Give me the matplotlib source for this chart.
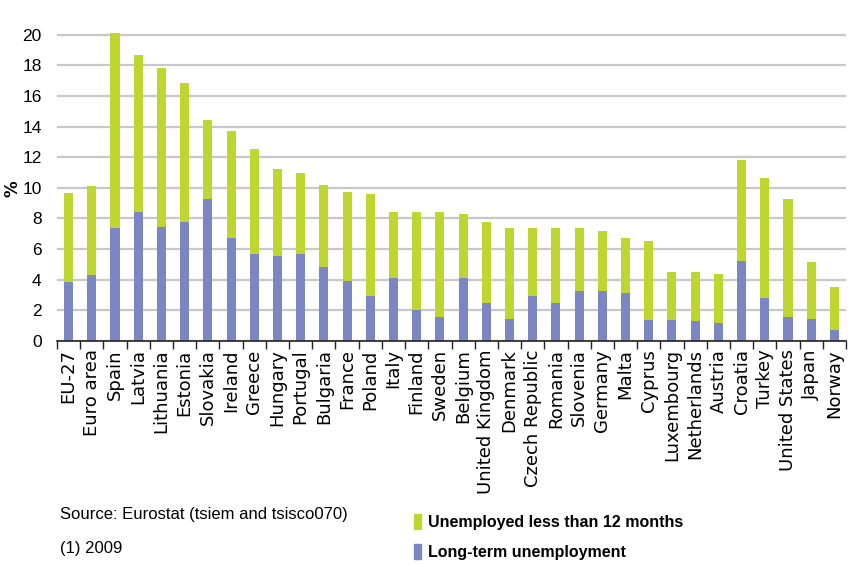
import matplotlib.pyplot as plt
import matplotlib.patches as mpatches
import numpy as np

countries = ['EU-27', 'Euro area', 'Spain', 'Latvia', 'Lithuania', 'Estonia', 'Slovakia',
             'Ireland', 'Greece', 'Hungary', 'Portugal', 'Bulgaria', 'France', 'Poland',
             'Italy', 'Finland', 'Sweden', 'Belgium', 'United Kingdom', 'Denmark',
             'Czech Republic', 'Romania', 'Slovenia', 'Germany', 'Malta', 'Cyprus',
             'Luxembourg', 'Netherlands', 'Austria', 'Croatia', 'Turkey', 'United States',
             'Japan', 'Norway']

long_term = [3.85, 4.3, 7.35, 8.4, 7.45, 7.75, 9.25, 6.7, 5.7, 5.55, 5.7, 4.8, 3.9, 2.95,
             4.1, 2.0, 1.55, 4.1, 2.5, 1.45, 2.95, 2.5, 3.25, 3.25, 3.15, 1.35, 1.35, 1.3,
             1.15, 5.25, 2.8, 1.55, 1.45, 0.7]

less_12m = [5.8, 5.8, 12.75, 10.3, 10.35, 9.1, 5.15, 7.0, 6.85, 5.65, 5.25, 5.4, 5.8, 6.65,
            4.3, 6.4, 6.85, 4.2, 5.3, 5.95, 4.4, 4.85, 4.1, 3.9, 3.6, 5.15, 3.15, 3.2,
            3.25, 6.55, 7.85, 7.75, 3.7, 2.85]

GREEN = '#bdd630'
BLUE = '#7b86c2'
NARROW = ['Liberation Sans Narrow', 'Liberation Sans', 'DejaVu Sans']

fig = plt.figure(figsize=(8.53, 5.64), dpi=100)
ax = fig.add_axes([57 / 853, 1 - 341 / 564, (846 - 57) / 853, (341 - 27) / 564])

x = np.arange(len(countries))
ax.bar(x, long_term, width=0.39, color=BLUE, zorder=3)
ax.bar(x, less_12m, width=0.39, bottom=long_term, color=GREEN, zorder=3)

ax.set_xlim(-0.5, len(countries) - 0.5)
ax.set_ylim(0, 20.5)
ax.set_yticks(np.arange(0, 21, 2))
ax.yaxis.grid(True, color='#c8c8c8', linewidth=1.6, zorder=0)
ax.set_axisbelow(True)

for s in ['top', 'right', 'left']:
    ax.spines[s].set_visible(False)
ax.spines['bottom'].set_color('#222222')
ax.spines['bottom'].set_linewidth(1.2)
ax.spines['bottom'].set_zorder(4)

ax.tick_params(axis='y', length=0, pad=11)
for lab in ax.get_yticklabels():
    lab.set_family(NARROW)
    lab.set_fontsize(12.5)

# category labels, ticks sit between the bars
ax.set_xticks(x)
ax.set_xticklabels(countries, rotation=90, fontsize=13, family='DejaVu Sans')
ax.tick_params(axis='x', which='major', length=0, pad=6)
ax.set_xticks(np.arange(-0.5, len(countries)), minor=True)
ax.tick_params(axis='x', which='minor', length=6, width=1, color='#222222')

fig.text(13 / 853, 1 - 189 / 564, '%', rotation=90, fontsize=12, fontweight='bold',
         ha='center', va='center')

fig.text(60 / 853, 1 - 514 / 564, 'Source: Eurostat (tsiem and tsisco070)', family=NARROW,
         fontsize=12, va='center')
fig.text(60 / 853, 1 - 549 / 564, '(1) 2009', family=NARROW, fontsize=12, va='center')

handles = [mpatches.Patch(color=GREEN, label='Unemployed less than 12 months'),
           mpatches.Patch(color=BLUE, label='Long-term unemployment')]
leg = fig.legend(handles=handles, loc='upper left', bbox_to_anchor=(414 / 853, 1 - 514 / 564),
                 frameon=False, handlelength=0.45, handleheight=1.1, handletextpad=0.4,
                 labelspacing=0.85, borderpad=0, borderaxespad=0,
                 prop={'family': NARROW, 'weight': 'bold', 'size': 11.5})

fig.savefig('out.png', dpi=100)
